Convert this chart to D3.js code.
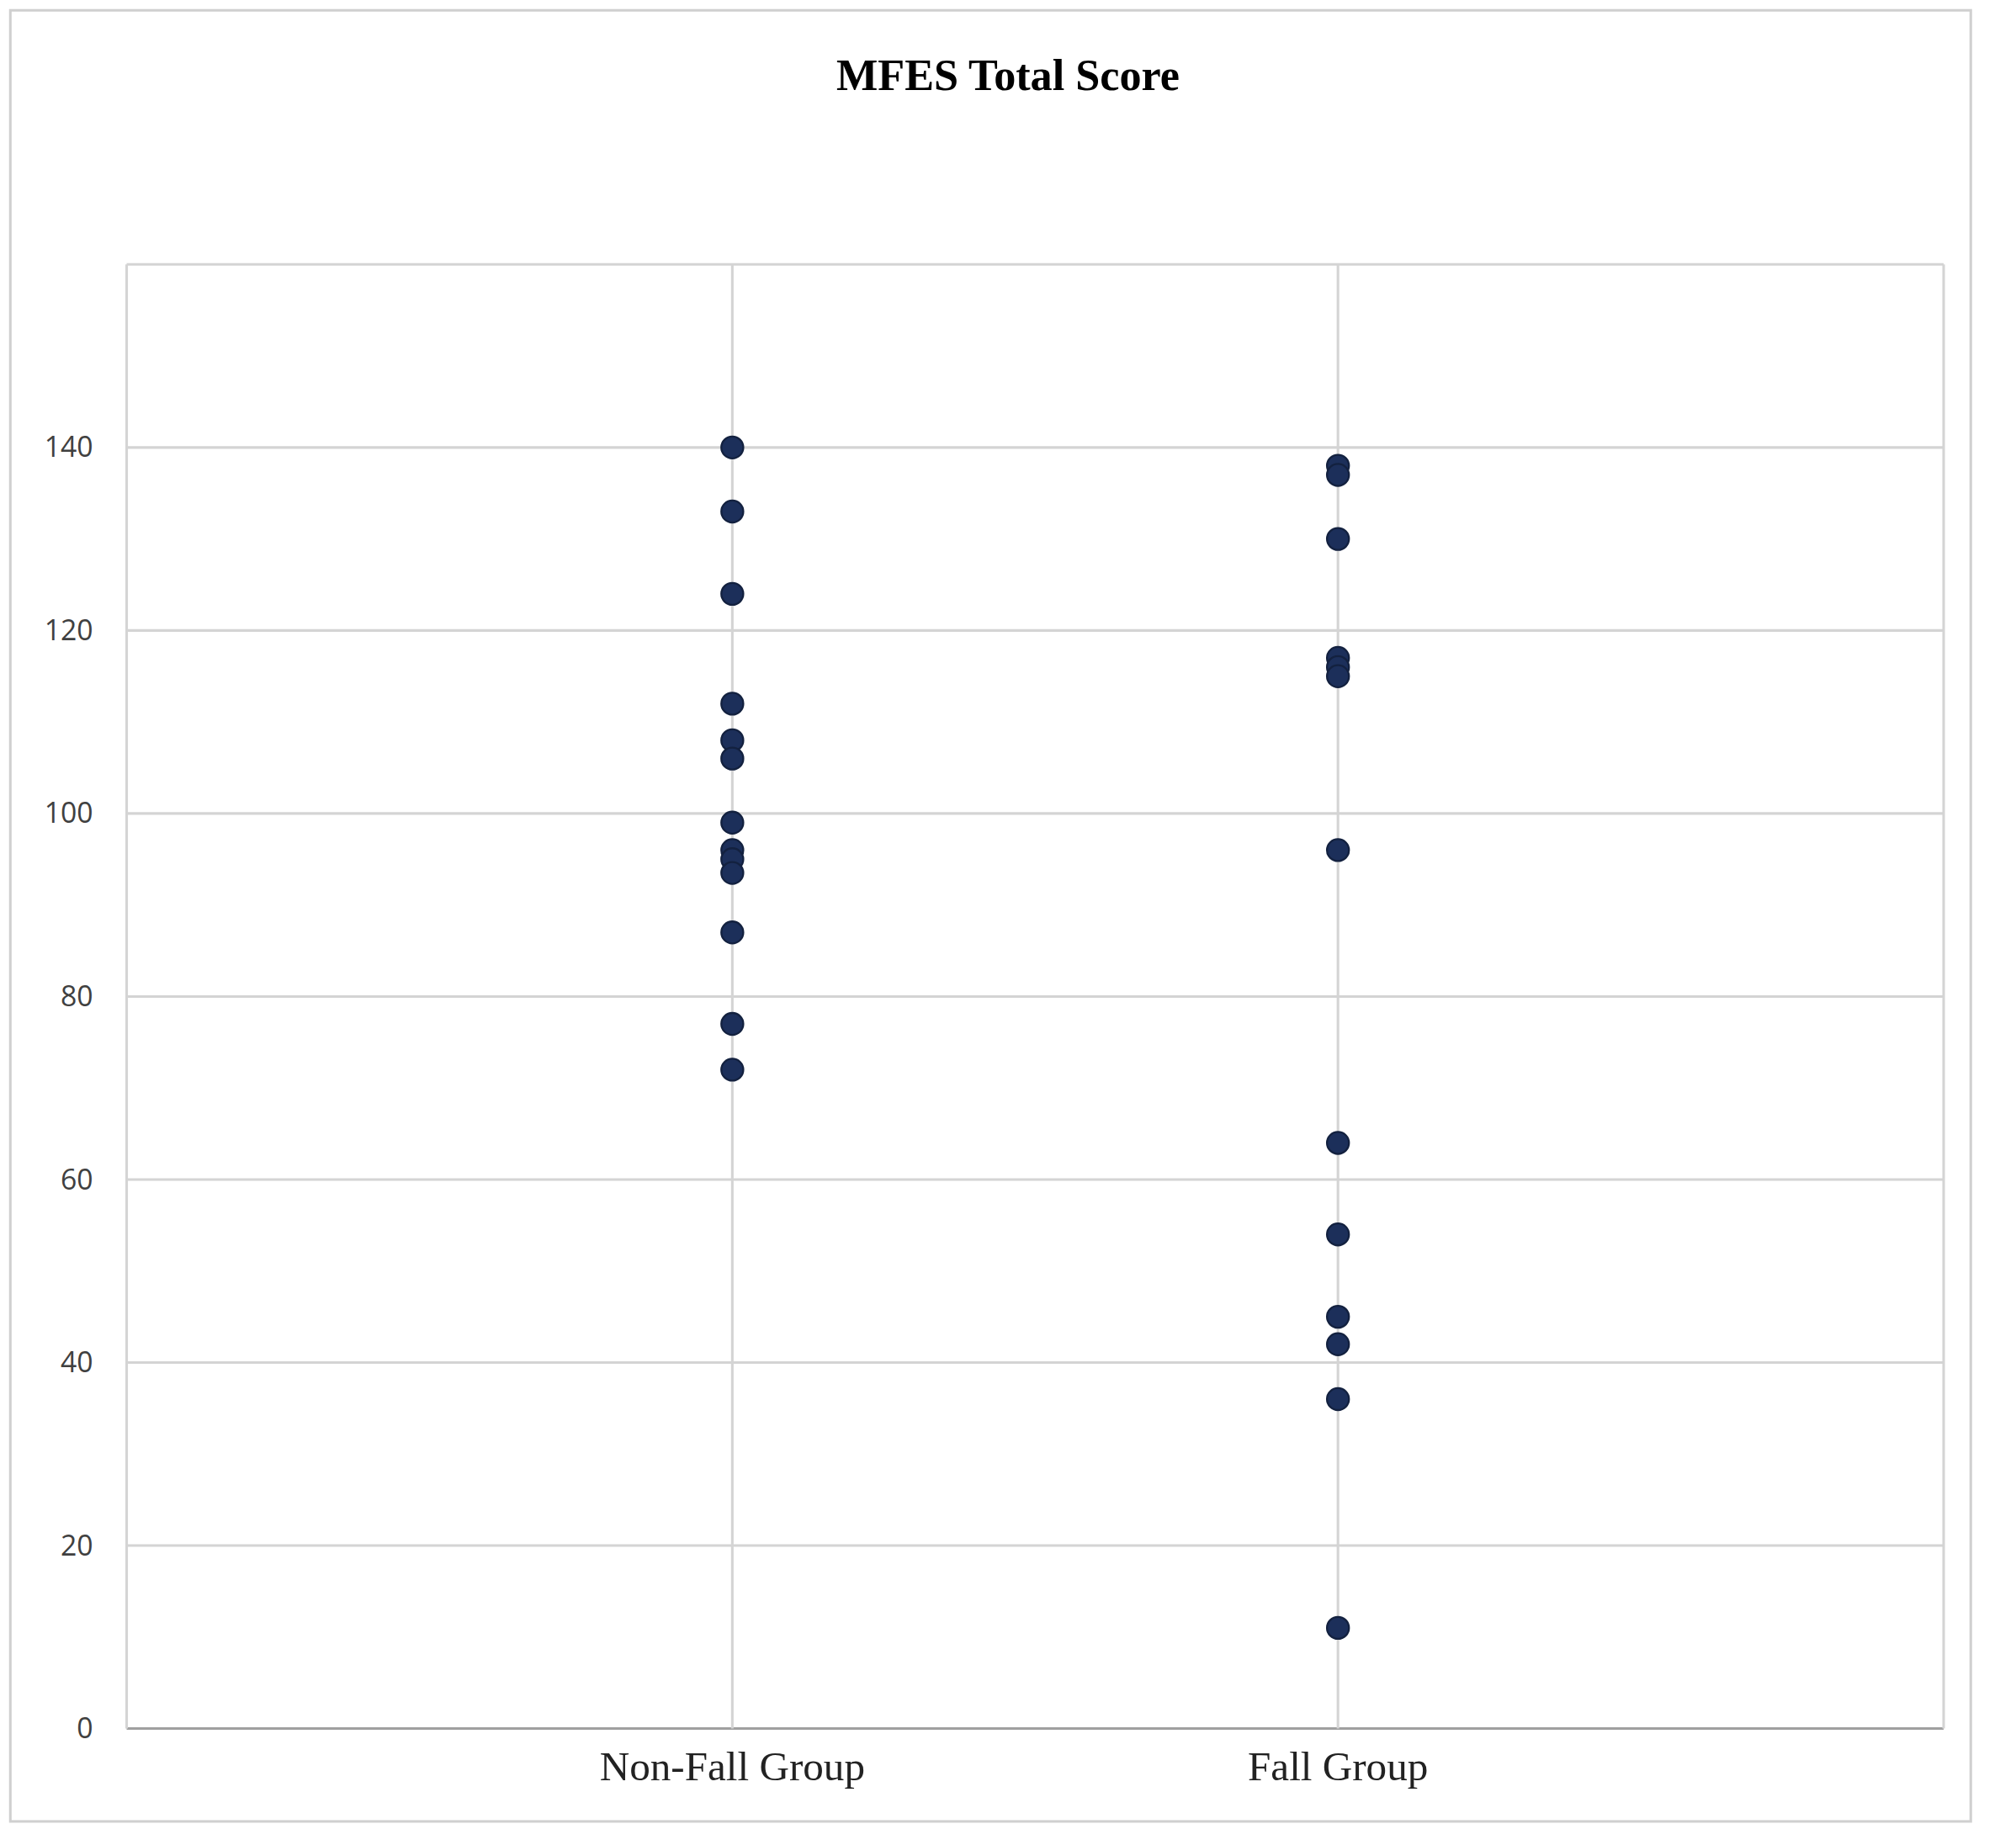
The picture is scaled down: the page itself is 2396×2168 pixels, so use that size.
<!DOCTYPE html>
<html>
<head>
<meta charset="utf-8">
<script src="https://cdn.jsdelivr.net/npm/d3@7"></script>
<style>
  body { margin: 0; background: #fff; }
  .tick text { font-family: "Open Sans", "DejaVu Sans", sans-serif; fill: #404040; }
</style>
</head>
<body>
<div id="chart"></div>
<script>
var groups = ["Non-Fall Group", "Fall Group"];
var nonFall = [140, 133, 124, 112, 108, 106, 99, 96, 95, 93.5, 87, 77, 72];
var fall = [138, 137, 130, 117, 116, 115, 96, 64, 54, 45, 42, 36, 11];
var yTicks = [0, 20, 40, 60, 80, 100, 120, 140];

var W = 1560, H = 1414;
var margin = {top: 205, right: 56, bottom: 74, left: 98},
    width = W - margin.left - margin.right,
    height = H - margin.top - margin.bottom;

var root = d3.select("#chart").append("svg")
    .attr("width", 2396)
    .attr("height", 2168)
    .attr("viewBox", "0 0 " + W + " " + H)
    .attr("preserveAspectRatio", "none");

// outer frame
root.append("rect")
    .attr("x", 8).attr("y", 8)
    .attr("width", 1517).attr("height", 1404)
    .attr("fill", "#fff")
    .attr("stroke", "#d0d0d0").attr("stroke-width", 2);

root.append("text")
    .attr("x", 780).attr("y", 70)
    .attr("text-anchor", "middle")
    .style("font-family", "'Liberation Serif', 'DejaVu Serif', serif")
    .style("font-weight", "bold")
    .style("font-size", "34px")
    .text("MFES Total Score");

var svg = root.append("g")
    .attr("transform", "translate(" + margin.left + "," + margin.top + ")");

var x = d3.scalePoint()
    .domain(["", groups[0], groups[1], " "])
    .range([0, width]);

var y = d3.scaleLinear()
    .domain([0, 160])
    .range([height, 0]);

// horizontal grid
svg.append("g")
  .selectAll("line")
  .data(yTicks.concat([160]))
  .enter().append("line")
    .attr("x1", 0).attr("x2", width)
    .attr("y1", function(d) { return y(d); })
    .attr("y2", function(d) { return y(d); })
    .style("stroke", function(d) { return d === 0 ? "#a0a0a0" : "#d4d4d4"; })
    .style("stroke-width", 2);

// vertical grid
svg.append("g")
  .selectAll("line")
  .data(x.domain())
  .enter().append("line")
    .attr("x1", function(d) { return x(d); })
    .attr("x2", function(d) { return x(d); })
    .attr("y1", 0).attr("y2", height)
    .style("stroke", "#d4d4d4")
    .style("stroke-width", 2);

var yAxis = d3.axisLeft(y).tickValues(yTicks).tickSize(0).tickPadding(26);
svg.append("g")
    .call(yAxis)
    .call(function(g) { g.select(".domain").remove(); })
    .selectAll("text").style("font-size", "22px");

svg.append("g")
  .selectAll("text")
  .data(groups)
  .enter().append("text")
    .attr("x", function(d) { return x(d); })
    .attr("y", height + 40)
    .attr("text-anchor", "middle")
    .style("font-family", "'Liberation Serif', 'DejaVu Serif', serif")
    .style("font-size", "32px")
    .style("fill", "#222")
    .text(function(d) { return d; });

var pts = nonFall.map(function(v) { return {g: groups[0], v: v}; })
  .concat(fall.map(function(v) { return {g: groups[1], v: v}; }));

svg.append("g")
  .selectAll("circle")
  .data(pts)
  .enter().append("circle")
    .attr("cx", function(d) { return x(d.g); })
    .attr("cy", function(d) { return y(d.v); })
    .attr("r", 8.5)
    .style("fill", "#1c2f5a")
    .style("stroke", "#13213f")
    .style("stroke-width", 1.5);
</script>
</body>
</html>
